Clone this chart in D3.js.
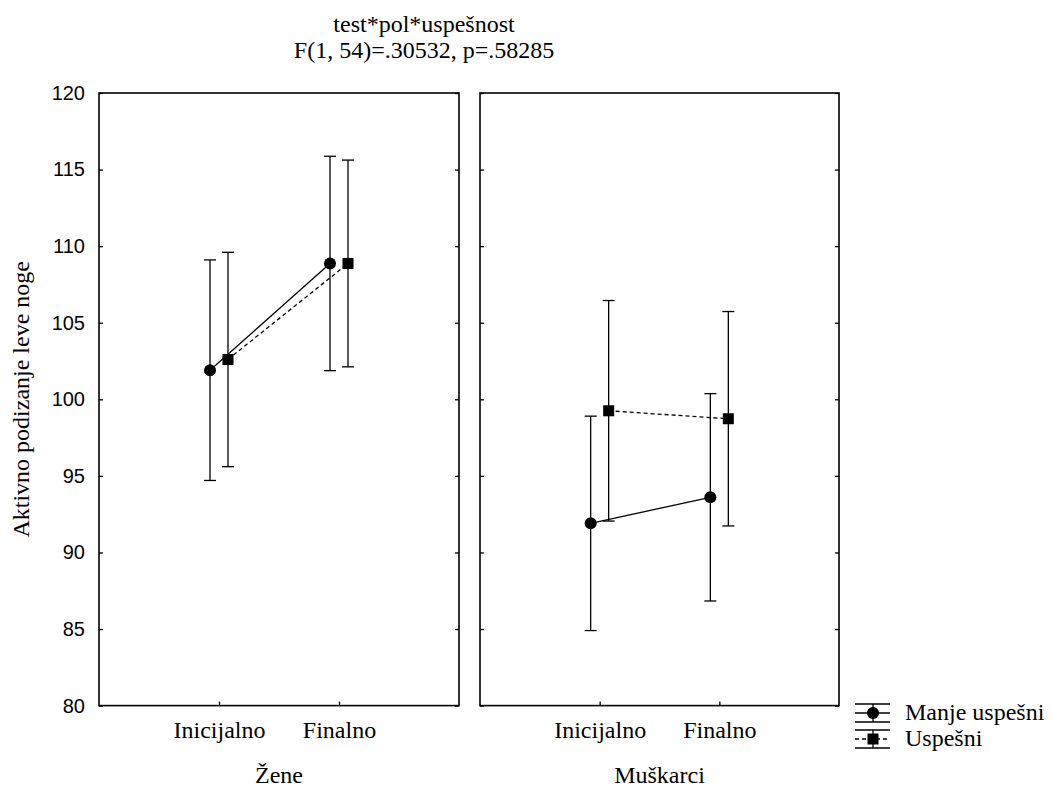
<!DOCTYPE html>
<html>
<head>
<meta charset="utf-8">
<script src="https://cdn.jsdelivr.net/npm/d3@7"></script>
<style>
  html, body { margin: 0; padding: 0; background: #fff; }
  svg { display: block; }
</style>
</head>
<body>
<svg id="chart" width="1052" height="787"></svg>
<script>
// ---- data ----
const categories = ["Inicijalno", "Finalno"];
const panels = ["Žene", "Muškarci"];
const seriesNames = ["Manje uspešni", "Uspešni"];
// means per panel [Inicijalno, Finalno]
const manjeMeans = [[101.9, 108.87], [91.9, 93.6]];
const manjeErr   = [[7.2, 7.0], [7.0, 6.77]];
const uspesniMeans = [[102.6, 108.87], [99.25, 98.73]];
const uspesniErr   = [[7.0, 6.75], [7.2, 7.0]];
const yTicks = [80, 85, 90, 95, 100, 105, 110, 115, 120];
const titleLines = ["test*pol*uspešnost", "F(1, 54)=.30532, p=.58285"];
const yLabel = "Aktivno podizanje leve noge";

// ---- layout ----
const svg = d3.select("#chart");
const serif = "'Liberation Serif', 'Times New Roman', serif";
const sans = "'Liberation Sans', Arial, sans-serif";
const plotTop = 93, plotBottom = 705.6;
const panelX = [[99, 459], [480, 839]];
const y = d3.scaleLinear().domain([80, 120]).range([plotBottom, plotTop]);
const lw = 1.3;

const series = [
  { name: seriesNames[0], means: manjeMeans, err: manjeErr, offset: -9, dash: null, marker: "circle" },
  { name: seriesNames[1], means: uspesniMeans, err: uspesniErr, offset: 9, dash: "4,3", marker: "square" }
];

// title
svg.append("g").selectAll("text").data(titleLines).join("text")
  .attr("x", 424).attr("y", (d, i) => 32 + i * 26)
  .attr("text-anchor", "middle")
  .style("font-family", serif).style("font-size", "24px")
  .text(d => d);

// y label
svg.append("text")
  .attr("transform", `translate(29,${(plotTop + plotBottom) / 2}) rotate(-90)`)
  .attr("text-anchor", "middle")
  .style("font-family", serif).style("font-size", "24px")
  .text(yLabel);

function drawMarker(g, type, cx, cy) {
  if (type === "circle") {
    g.append("circle").attr("cx", cx).attr("cy", cy).attr("r", 6).attr("fill", "#000");
  } else {
    g.append("rect").attr("x", cx - 5.5).attr("y", cy - 5.5).attr("width", 11).attr("height", 11).attr("fill", "#000");
  }
}

panels.forEach((pname, p) => {
  const [x0, x1] = panelX[p];
  const x = d3.scalePoint().domain(categories).range([x0, x1]).padding(1);
  const g = svg.append("g");

  // axes (inward ticks)
  const left = g.append("g").attr("transform", `translate(${x0},0)`)
    .call(d3.axisLeft(y).tickValues(yTicks).tickSizeInner(-4).tickSizeOuter(0).tickPadding(14)
      .tickFormat(p === 0 ? d3.format("d") : () => ""));
  const right = g.append("g").attr("transform", `translate(${x1},0)`)
    .call(d3.axisRight(y).tickValues(yTicks).tickSizeInner(-4).tickSizeOuter(0).tickFormat(() => ""));
  const bot = g.append("g").attr("transform", `translate(0,${plotBottom})`)
    .call(d3.axisBottom(x).tickSizeInner(-4).tickSizeOuter(0).tickPadding(15));
  [left, right, bot].forEach(a => {
    a.select(".domain").remove();
    a.selectAll("line").attr("stroke", "#000").attr("stroke-width", lw);
  });
  left.selectAll("text").style("font-family", sans).style("font-size", "20px").attr("fill", "#000");
  bot.selectAll("text").style("font-family", serif).style("font-size", "24px").attr("fill", "#000");

  // frame
  g.append("rect").attr("x", x0).attr("y", plotTop).attr("width", x1 - x0).attr("height", plotBottom - plotTop)
    .attr("fill", "none").attr("stroke", "#000").attr("stroke-width", 1.6);

  // panel label
  g.append("text").attr("x", (x0 + x1) / 2).attr("y", 783)
    .attr("text-anchor", "middle")
    .style("font-family", serif).style("font-size", "24px")
    .text(pname);

  // series
  series.forEach(s => {
    const pts = categories.map((c, i) => ({
      cx: x(c) + s.offset,
      m: s.means[p][i],
      e: s.err[p][i]
    }));
    // error bars
    pts.forEach(d => {
      g.append("line").attr("x1", d.cx).attr("x2", d.cx)
        .attr("y1", y(d.m - d.e)).attr("y2", y(d.m + d.e))
        .attr("stroke", "#000").attr("stroke-width", lw);
      [d.m - d.e, d.m + d.e].forEach(v => {
        g.append("line").attr("x1", d.cx - 6).attr("x2", d.cx + 6)
          .attr("y1", y(v)).attr("y2", y(v))
          .attr("stroke", "#000").attr("stroke-width", lw);
      });
    });
    // connecting line
    g.append("path")
      .attr("d", d3.line().x(d => d.cx).y(d => y(d.m))(pts))
      .attr("fill", "none").attr("stroke", "#000").attr("stroke-width", lw)
      .attr("stroke-dasharray", s.dash);
  });
  series.forEach(s => {
    categories.forEach((c, i) => drawMarker(g, s.marker, x(c) + s.offset, y(s.means[p][i])));
  });
});

// legend
const lg = svg.append("g");
series.forEach((s, i) => {
  const cy = 713 + i * 26;
  const lx0 = 855, lx1 = 890, mx = 873;
  [cy - 9, cy + 9].forEach(v => {
    lg.append("line").attr("x1", lx0).attr("x2", lx1).attr("y1", v).attr("y2", v)
      .attr("stroke", "#000").attr("stroke-width", lw);
  });
  lg.append("line").attr("x1", mx).attr("x2", mx).attr("y1", cy - 9).attr("y2", cy + 9)
    .attr("stroke", "#000").attr("stroke-width", lw);
  lg.append("line").attr("x1", lx0).attr("x2", lx1).attr("y1", cy).attr("y2", cy)
    .attr("stroke", "#000").attr("stroke-width", lw).attr("stroke-dasharray", s.dash);
  drawMarker(lg, s.marker, mx, cy);
  lg.append("text").attr("x", 905).attr("y", cy + 7)
    .style("font-family", serif).style("font-size", "24px")
    .text(s.name);
});
</script>
</body>
</html>
